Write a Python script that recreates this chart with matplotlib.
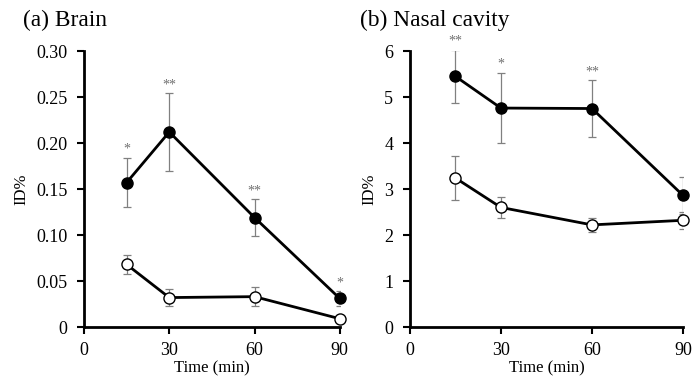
import matplotlib.pyplot as plt

plt.rcParams["font.family"] = ["Liberation Serif", "DejaVu Serif"]

# time points (min)
time = [15, 30, 60, 90]

# (a) Brain
brain_filled = [0.157, 0.212, 0.119, 0.031]
brain_filled_err = [0.027, 0.042, 0.020, 0.008]
brain_open = [0.068, 0.032, 0.033, 0.009]
brain_open_err = [0.010, 0.0095, 0.010, 0.002]
brain_stars = ["*", "**", "**", "*"]

# (b) Nasal cavity
nasal_filled = [5.45, 4.76, 4.75, 2.86]
nasal_filled_err = [0.57, 0.77, 0.61, 0.40]
nasal_open = [3.24, 2.60, 2.22, 2.32]
nasal_open_err = [0.47, 0.23, 0.15, 0.18]
nasal_stars = ["**", "*", "**", ""]

brain_yticks = [0, 0.05, 0.10, 0.15, 0.20, 0.25, 0.30]
brain_ylabels = ["0", "0.05", "0.10", "0.15", "0.20", "0.25", "0.30"]
nasal_yticks = [0, 1, 2, 3, 4, 5, 6]
xticks = [0, 30, 60, 90]

fig = plt.figure(figsize=(6.97, 3.76), dpi=100)
ax1 = fig.add_axes([0.1205, 0.1303, 0.367, 0.734])
ax2 = fig.add_axes([0.588, 0.1303, 0.392, 0.734])


def draw(ax, filled, ferr, opn, oerr, stars, ymax, star_off):
    ax.errorbar(time, filled, yerr=ferr, fmt="none", ecolor="#808080",
                elinewidth=0.9, capsize=3, capthick=0.9, zorder=2)
    ax.errorbar(time, opn, yerr=oerr, fmt="none", ecolor="#808080",
                elinewidth=0.9, capsize=3, capthick=0.9, zorder=2)
    ax.plot(time, filled, color="black", lw=2, marker="o", ms=8,
            mfc="black", mec="black", zorder=3, clip_on=False)
    ax.plot(time, opn, color="black", lw=2, marker="o", ms=8,
            mfc="white", mec="black", mew=1, zorder=3, clip_on=False)
    for t, y, e, s in zip(time, filled, ferr, stars):
        if s:
            ax.text(t, y + e + star_off, s, ha="center", va="bottom",
                    color="#707070", fontsize=10, clip_on=False)
    ax.set_xlim(0, 90)
    ax.set_ylim(0, ymax)
    ax.set_xticks(xticks)
    ax.spines["top"].set_visible(False)
    ax.spines["right"].set_visible(False)
    ax.spines["left"].set_linewidth(2)
    ax.spines["bottom"].set_linewidth(2)
    ax.tick_params(direction="out", length=5, width=1.5, labelsize=13)
    ax.tick_params(axis="y", pad=7)
    ax.tick_params(axis="x", pad=6)
    ax.set_xlabel("Time (min)", fontsize=12, labelpad=1)
    ax.set_ylabel("ID%", fontsize=12, labelpad=5)


draw(ax1, brain_filled, brain_filled_err, brain_open, brain_open_err,
     brain_stars, 0.30, 0.002)
ax1.set_yticks(brain_yticks)
ax1.set_yticklabels(brain_ylabels)

draw(ax2, nasal_filled, nasal_filled_err, nasal_open, nasal_open_err,
     nasal_stars, 6, 0.05)
ax2.set_yticks(nasal_yticks)

fig.text(0.033, 0.945, "(a) Brain", fontsize=16.8, va="center")
fig.text(0.516, 0.945, "(b) Nasal cavity", fontsize=16.8, va="center")

plt.savefig("out.png", dpi=100)
